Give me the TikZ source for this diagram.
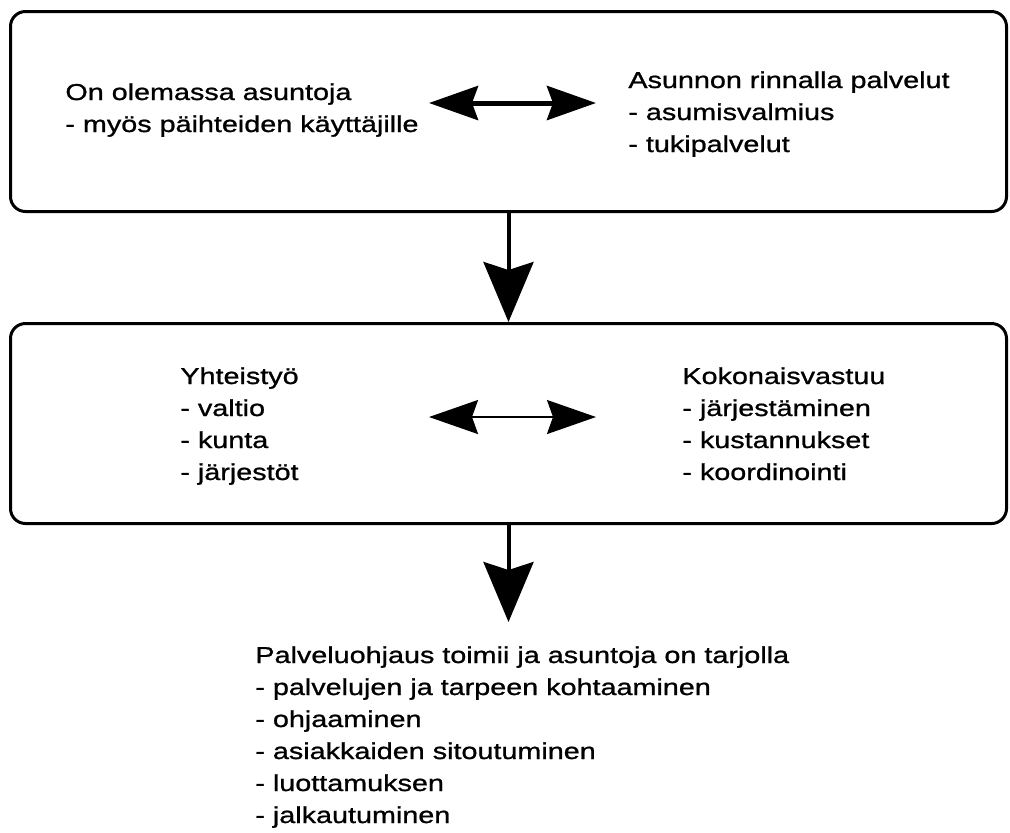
\documentclass[tikz,border=0pt]{standalone}
\usepackage{fontspec}
\setmainfont[FakeStretch=1.25, BoldFont={Liberation Sans}, BoldFeatures={FakeBold=1}]{Liberation Sans}
\usetikzlibrary{arrows.meta}
\tikzset{
    laatikko/.style={draw, line width=1.5pt, rounded corners=7.5pt},
    teksti/.style={anchor=base west, align=left, inner sep=0pt, font=\fontsize{11.5}{16}\selectfont\bfseries},
    alas/.style={-{Stealth[length=30pt,width=25pt,inset=4pt]}, line width=2pt},
    kaksi/.style={{Stealth[length=24.5pt,width=17pt,inset=3pt]}-{Stealth[length=24.5pt,width=17pt,inset=3pt]}}
}
\begin{document}
\begin{tikzpicture}[x=0.5pt, y=-0.5pt]
    \useasboundingbox (0,0) rectangle (1010,832);
    % laatikot
    \node[laatikko, minimum width=498pt, minimum height=100pt] (ylin) at (508.5,111.5) {};
    \node[laatikko, minimum width=498pt, minimum height=100pt] (keski) at (508.5,423.5) {};
    % tekstit (ankkuri viimeisen rivin pohjalla)
    \node[teksti] (asunnot) at (65,132) {On olemassa asuntoja\\- myös päihteiden käyttäjille};
    \node[teksti] (palvelut) at (628,152) {Asunnon rinnalla palvelut\\- asumisvalmius\\- tukipalvelut};
    \node[teksti] (yhteistyo) at (180,480) {Yhteistyö\\- valtio\\- kunta\\- järjestöt};
    \node[teksti] (vastuu) at (682,480) {Kokonaisvastuu\\- järjestäminen\\- kustannukset\\- koordinointi};
    \node[teksti] (tulos) at (255,823) {Palveluohjaus toimii ja asuntoja on tarjolla\\- palvelujen ja tarpeen kohtaaminen\\- ohjaaminen\\- asiakkaiden sitoutuminen\\- luottamuksen\\- jalkautuminen};
    % nuolet
\foreach \i/\y/\w in {1/103/2.5pt, 2/417/1pt}
{
    \coordinate (vasen\i) at (429,\y);
    \coordinate (oikea\i) at (596,\y);
    \draw[kaksi, line width=\w] (vasen\i) -- (oikea\i);
}
    \coordinate (karki) at (508.5,622);
    \draw[alas] (ylin.south) -- (keski.north);
    \draw[alas] (keski.south) -- (karki);
\end{tikzpicture}
\end{document}
